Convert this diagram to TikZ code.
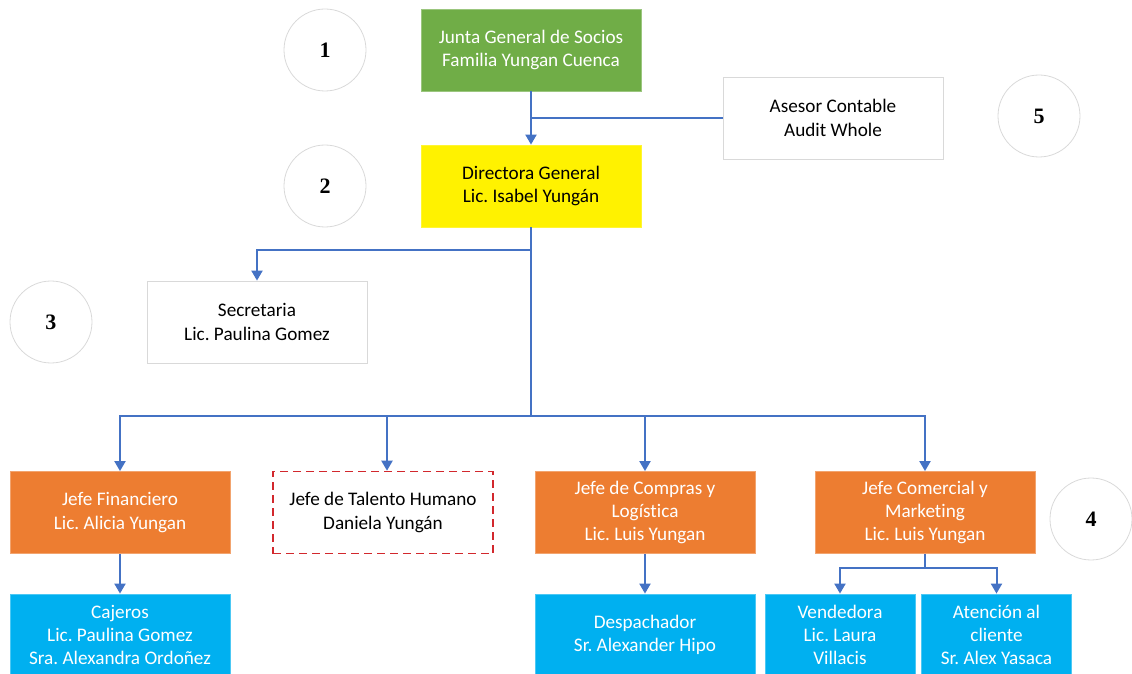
\documentclass[tikz,border=0pt]{standalone}
\usepackage{fontspec}
\setmainfont[Ligatures=NoCommon]{Carlito}
\newfontfamily\numfont{Liberation Serif}
\usepackage{tikz}
\usetikzlibrary{positioning,arrows.meta,calc}
\frenchspacing
\definecolor{linkblue}{RGB}{68,114,196}
\definecolor{juntagreen}{RGB}{112,173,71}
\definecolor{jefeorange}{RGB}{237,125,49}
\definecolor{subblue}{RGB}{0,176,240}
\definecolor{softgray}{RGB}{217,217,217}
\definecolor{dashred}{RGB}{210,40,45}
\tikzset{
orgbox/.style={
draw=white,
line width=0.4pt,
minimum width=110pt,
minimum height=41pt,
align=center,
inner sep=1pt,
font=\fontsize{9.6}{11.6}\selectfont
},
topbox/.style={orgbox,fill=juntagreen,text=white,draw=juntagreen!70!white},
dirbox/.style={orgbox,fill=yellow,text=black,draw=yellow!80!white},
plainbox/.style={orgbox,fill=white,text=black,draw=softgray},
jefebox/.style={orgbox,fill=jefeorange,text=white,draw=jefeorange!70!white},
subbox/.style={orgbox,fill=subblue,text=white,draw=subblue!70!white},
talbox/.style={orgbox,fill=white,text=black,draw=dashred,dashed,line width=0.8pt,dash pattern=on 4pt off 2.5pt},
numcircle/.style={
circle,
draw=softgray,
line width=0.4pt,
minimum size=41pt,
font=\numfont\bfseries\fontsize{11}{13}\selectfont
},
link/.style={draw=linkblue,line width=1pt},
arrow/.style={
link,
-{Triangle[length=5pt,width=5.5pt]}
}
}
\begin{document}
\begin{tikzpicture}[x=0.5pt,y=-0.5pt]
\useasboundingbox (0,0) rectangle (1132,674);
% boxes
\node[topbox](junta) at (531,50){Junta General de Socios\\Familia Yungan Cuenca};
\node[dirbox](dir) at (531,186){Directora General\\Lic. Isabel Yungán};
\node[plainbox](ases) at (833,118){Asesor Contable\\Audit Whole};
\node[plainbox](sec) at (257,322){Secretaria\\Lic. Paulina Gomez};
\node[jefebox](fin) at (120,512.5){Jefe Financiero\\Lic. Alicia Yungan};
\node[talbox](tal) at (383,512.5){Jefe de Talento Humano\\Daniela Yungán};
\node[jefebox](com) at (645,512.5){Jefe de Compras y\\Logística\\Lic. Luis Yungan};
\node[jefebox](mar) at (925,512.5){Jefe Comercial y\\Marketing\\Lic. Luis Yungan};
\node[subbox](caj) at (120,635){Cajeros\\Lic. Paulina Gomez\\Sra. Alexandra Ordoñez};
\node[subbox](des) at (645,635){Despachador\\Sr. Alexander Hipo};
\node[subbox,minimum width=75pt](ven) at (840,635){Vendedora\\Lic. Laura\\Villacis};
\node[subbox,minimum width=75pt](ate) at (996.5,635){Atención al\\cliente\\Sr. Alex Yasaca};
% numbers
\node[numcircle](n1) at (325,50){1};
\node[numcircle](n2) at (325,186){2};
\node[numcircle](n3) at (51,322){3};
\node[numcircle](n4) at (1091,519){4};
\node[numcircle](n5) at (1039,116){5};
% connectors
\draw[arrow](junta)--(dir);
\draw[link](ases.west)--(ases.west -| junta.south);
\draw[arrow](dir.south)--++(0,23)-|(sec.north);
\coordinate(bus) at (531,416);
\draw[link](dir.south)--(bus);
\foreach \n in {fin,com,mar}
\draw[arrow](bus)-|(\n.north);
\draw[arrow](bus)-|([xshift=2pt]tal.north);
\draw[arrow](fin)--(caj);
\draw[arrow](com)--(des);
\foreach \n in {ven,ate}
\draw[arrow](mar.south)--++(0,14)-|(\n.north);
\end{tikzpicture}
\end{document}
